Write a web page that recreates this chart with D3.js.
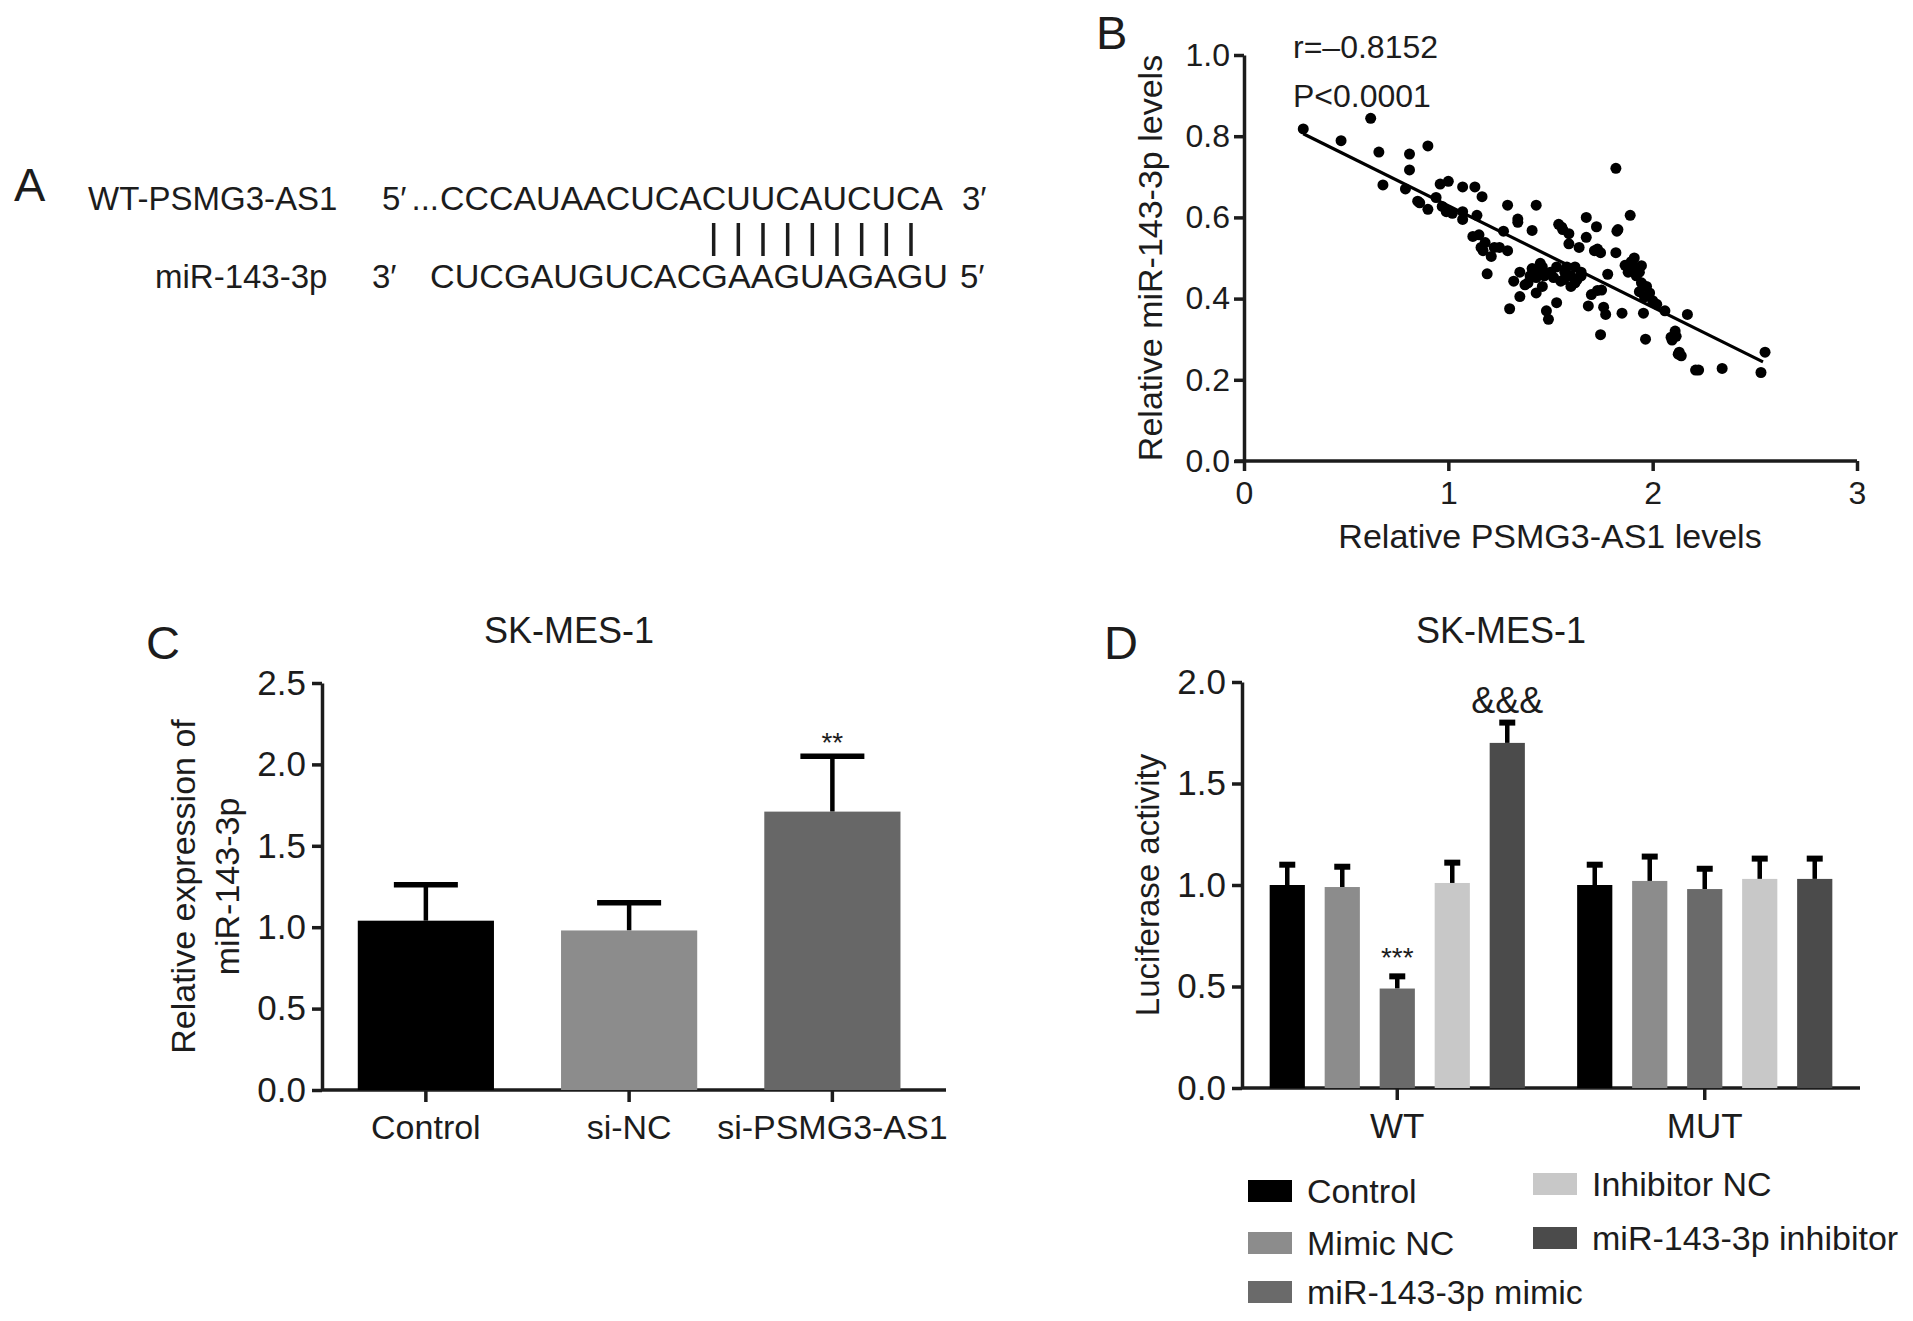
<!DOCTYPE html>
<html lang="en">
<head>
<meta charset="UTF-8">
<title>PSMG3-AS1 / miR-143-3p</title>
<script src="https://cdn.jsdelivr.net/npm/d3@7/dist/d3.min.js"></script>
<style>
  body { margin: 0; background: #fff; }
  svg text { font-family: "Liberation Sans", Arial, sans-serif; fill: #1c1c1c; }
</style>
</head>
<body>
<div id="chart"></div>
<script>
const width = 1913, height = 1321;
const ink = '#1c1c1c';

// ---- panel A: sequence pairing
const seqNames = ['WT-PSMG3-AS1', 'miR-143-3p'];
const seqLeftEnds = ['5′', '3′'];
const seqRightEnds = ['3′', '5′'];
const seqStrings = ['CCCAUAACUCACUUCAUCUCA', 'CUCGAUGUCACGAAGUAGAGU'];
const pairedIdx = [11, 12, 13, 14, 15, 16, 17, 18, 19]; // positions on miR strand

// ---- panel B: correlation
const psmgLevels = [0.29, 0.475, 0.62, 0.66, 0.68, 0.81, 0.81, 0.90, 0.79, 0.86,
  0.90, 0.96, 1.0, 0.94, 0.99, 1.02, 1.07, 1.13, 1.165, 1.07,
  1.14, 1.15, 1.18, 1.17, 1.21, 1.19, 1.25, 1.27, 1.29, 1.29,
  1.34, 1.34, 1.43, 1.41, 1.30, 1.32, 1.35, 1.39, 1.41, 1.43,
  1.43, 1.46, 1.45, 1.48, 1.49, 1.53, 1.53, 1.54, 1.56, 1.55,
  1.57, 1.59, 1.60, 1.63, 1.62, 1.65, 1.64, 1.675, 1.675, 1.685,
  1.70, 1.725, 1.73, 1.745, 1.75, 1.745, 1.76, 1.77, 1.78, 1.82,
  1.825, 1.82, 1.85, 1.865, 1.88, 1.89, 1.895, 1.91, 1.92, 1.945,
  1.935, 1.96, 1.955, 1.965, 1.97, 1.985, 2.02, 2.06, 2.09, 2.11,
  2.095, 2.13, 2.14, 2.17, 2.21, 2.225, 2.34, 2.53, 2.55, 1.50,
  1.515, 1.58, 1.60, 1.62, 1.65, 1.40, 1.375, 1.35, 1.555, 1.59,
  1.12, 1.16, 1.225, 1.07, 0.97, 0.85, 1.935, 1.91, 1.83, 1.715,
  1.73, 1.945, 1.98, 2.0, 2.115, 2.125, 1.565, 1.46, 1.44, 1.47];
const mirLevels = [0.818, 0.789, 0.844, 0.761, 0.68, 0.756, 0.717, 0.776, 0.67, 0.636,
  0.62, 0.682, 0.689, 0.649, 0.614, 0.61, 0.675, 0.675, 0.651, 0.595,
  0.605, 0.557, 0.538, 0.518, 0.504, 0.461, 0.526, 0.566, 0.518, 0.63,
  0.596, 0.588, 0.63, 0.568, 0.375, 0.443, 0.405, 0.439, 0.474, 0.452,
  0.414, 0.43, 0.487, 0.370, 0.349, 0.390, 0.478, 0.583, 0.57, 0.443,
  0.465, 0.535, 0.43, 0.447, 0.478, 0.465, 0.526, 0.551, 0.60, 0.382,
  0.41, 0.577, 0.522, 0.513, 0.421, 0.311, 0.379, 0.361, 0.46, 0.721,
  0.566, 0.513, 0.364, 0.482, 0.465, 0.605, 0.491, 0.478, 0.456, 0.481,
  0.417, 0.404, 0.364, 0.30, 0.43, 0.414, 0.386, 0.37, 0.305, 0.32,
  0.298, 0.268, 0.259, 0.361, 0.224, 0.224, 0.228, 0.218, 0.268, 0.465,
  0.452, 0.478, 0.456, 0.439, 0.456, 0.456, 0.434, 0.465, 0.576, 0.56,
  0.553, 0.526, 0.526, 0.614, 0.627, 0.64, 0.465, 0.5, 0.57, 0.518,
  0.42, 0.439, 0.408, 0.395, 0.307, 0.263, 0.447, 0.478, 0.465, 0.456];
const fitX = [0.29, 2.54];
const fitY = [0.806, 0.244];
const statText = ['r=–0.8152', 'P<0.0001'];

// ---- panel C: qPCR
const cGroups = ['Control', 'si-NC', 'si-PSMG3-AS1'];
const cMeans = [1.04, 0.98, 1.71];
const cErr = [0.22, 0.17, 0.34];
const cColors = ['#000000', '#8c8c8c', '#676767'];
const cMarks = ['', '', '**'];

// ---- panel D: luciferase
const dGroups = ['WT', 'MUT'];
const dSeries = ['Control', 'Mimic NC', 'miR-143-3p mimic', 'Inhibitor NC', 'miR-143-3p inhibitor'];
const dColors = ['#000000', '#8c8c8c', '#6a6a6a', '#c8c8c8', '#4b4b4b'];
const wtMeans = [1.0, 0.99, 0.49, 1.01, 1.70];
const wtErr = [0.10, 0.10, 0.06, 0.10, 0.10];
const mutMeans = [1.0, 1.02, 0.98, 1.03, 1.03];
const mutErr = [0.10, 0.12, 0.10, 0.10, 0.10];
const wtMarks = ['', '', '***', '', '&&&'];

const svg = d3.select('#chart').append('svg')
  .attr('width', width).attr('height', height)
  .style('background', '#fff');

function styleAxis(g, fs) {
  g.attr('font-family', null).attr('font-size', null);
  g.selectAll('path, line').attr('stroke', ink).attr('stroke-width', 3.5);
  g.selectAll('text').attr('font-size', fs).attr('fill', ink);
}

function panelLetter(t, x, y) {
  svg.append('text').attr('x', x).attr('y', y).attr('font-size', 47).text(t);
}

// ================= A
panelLetter('A', 14, 201);
const seqFs = 33;
const nameX = [88, 155], baseY = [210, 288];
const leftEndX = [382, 372], seqX0 = [440, 430], seqX1 = [943, 948], rightEndX = [962, 960];
seqNames.forEach((n, i) => {
  svg.append('text').attr('x', nameX[i]).attr('y', baseY[i]).attr('font-size', seqFs).text(n);
  svg.append('text').attr('x', leftEndX[i]).attr('y', baseY[i]).attr('font-size', seqFs)
    .text(seqLeftEnds[i]);
  svg.append('text').attr('x', seqX0[i]).attr('y', baseY[i]).attr('font-size', seqFs)
    .attr('textLength', seqX1[i] - seqX0[i]).attr('lengthAdjust', 'spacingAndGlyphs')
    .text(seqStrings[i]);
  svg.append('text').attr('x', rightEndX[i]).attr('y', baseY[i]).attr('font-size', seqFs).text(seqRightEnds[i]);
});
// dots before the WT fragment
svg.append('text').attr('x', seqX0[0] - 1).attr('y', baseY[0]).attr('font-size', seqFs)
  .attr('text-anchor', 'end').text('...');

const letterX = d3.scaleLinear().domain([0, seqStrings[1].length]).range([seqX0[1], seqX1[1]]);
svg.append('g').selectAll('line').data(pairedIdx).join('line')
  .attr('x1', d => letterX(d + 0.5)).attr('x2', d => letterX(d + 0.5))
  .attr('y1', 223).attr('y2', 256)
  .attr('stroke', ink).attr('stroke-width', 3.5);

// ================= B
panelLetter('B', 1096, 49);
const bx = d3.scaleLinear().domain([0, 3]).range([1244, 1857]);
const by = d3.scaleLinear().domain([0, 1]).range([461, 55]);

const bxAxis = svg.append('g').attr('transform', `translate(0,${by(0)})`)
  .call(d3.axisBottom(bx).tickValues([0, 1, 2, 3]).tickFormat(d3.format('d'))
    .tickSize(10).tickSizeOuter(0).tickPadding(10));
styleAxis(bxAxis, 32);
bxAxis.select('.domain').attr('d', `M${bx(0) - 9},0H${bx(3)}`);

const byAxis = svg.append('g').attr('transform', `translate(${bx(0)},0)`)
  .call(d3.axisLeft(by).tickValues(d3.range(0, 1.01, 0.2)).tickFormat(d3.format('.1f'))
    .tickSize(10).tickSizeOuter(0).tickPadding(4));
styleAxis(byAxis, 32);

svg.append('g').selectAll('circle').data(psmgLevels).join('circle')
  .attr('cx', d => bx(d)).attr('cy', (d, i) => by(mirLevels[i]))
  .attr('r', 5.5).attr('fill', '#000');

svg.append('line')
  .attr('x1', bx(fitX[0])).attr('y1', by(fitY[0]))
  .attr('x2', bx(fitX[1])).attr('y2', by(fitY[1]))
  .attr('stroke', '#000').attr('stroke-width', 3.2);

svg.append('text').attr('x', 1293).attr('y', 58).attr('font-size', 32).text(statText[0]);
svg.append('text').attr('x', 1293).attr('y', 107).attr('font-size', 32).text(statText[1]);

svg.append('text').attr('font-size', 34).attr('text-anchor', 'middle')
  .attr('transform', `translate(1162,${(by(0) + by(1)) / 2}) rotate(-90)`)
  .text('Relative miR-143-3p levels');
svg.append('text').attr('font-size', 34).attr('text-anchor', 'middle')
  .attr('x', 1550).attr('y', 548).text('Relative PSMG3-AS1 levels');

// ================= C
panelLetter('C', 146, 659);
svg.append('text').attr('x', 569).attr('y', 643).attr('font-size', 36)
  .attr('text-anchor', 'middle').text('SK-MES-1');

const cy = d3.scaleLinear().domain([0, 2.5]).range([1090, 683]);
const cx = d3.scaleBand().domain(cGroups).range([322, 946])
  .paddingInner(0.33).paddingOuter(0.2).align(0.44);

const cxAxis = svg.append('g').attr('transform', `translate(0,${cy(0)})`)
  .call(d3.axisBottom(cx).tickSize(12).tickSizeOuter(0).tickPadding(13));
styleAxis(cxAxis, 34);
cxAxis.select('.domain').attr('d', `M322,0H946`);

const cyAxis = svg.append('g').attr('transform', `translate(322,0)`)
  .call(d3.axisLeft(cy).tickValues(d3.range(0, 2.51, 0.5)).tickFormat(d3.format('.1f'))
    .tickSize(10).tickSizeOuter(0).tickPadding(6));
styleAxis(cyAxis, 35);

const cBar = svg.append('g').selectAll('g').data(cGroups).join('g');
cBar.append('line')
  .attr('x1', d => cx(d) + cx.bandwidth() / 2).attr('x2', d => cx(d) + cx.bandwidth() / 2)
  .attr('y1', (d, i) => cy(cMeans[i])).attr('y2', (d, i) => cy(cMeans[i] + cErr[i]))
  .attr('stroke', '#000').attr('stroke-width', 4.5);
cBar.append('line')
  .attr('x1', d => cx(d) + cx.bandwidth() / 2 - 32).attr('x2', d => cx(d) + cx.bandwidth() / 2 + 32)
  .attr('y1', (d, i) => cy(cMeans[i] + cErr[i])).attr('y2', (d, i) => cy(cMeans[i] + cErr[i]))
  .attr('stroke', '#000').attr('stroke-width', 5.5);
cBar.append('rect')
  .attr('x', d => cx(d)).attr('width', cx.bandwidth())
  .attr('y', (d, i) => cy(cMeans[i])).attr('height', (d, i) => cy(0) - cy(cMeans[i]))
  .attr('fill', (d, i) => cColors[i]);
cBar.append('text')
  .attr('x', d => cx(d) + cx.bandwidth() / 2).attr('y', (d, i) => cy(cMeans[i] + cErr[i]) - 4)
  .attr('text-anchor', 'middle').attr('font-size', 28).text((d, i) => cMarks[i]);

svg.append('text').attr('font-size', 34).attr('text-anchor', 'middle')
  .attr('transform', `translate(195,${(cy(0) + cy(2.5)) / 2}) rotate(-90)`)
  .text('Relative expression of');
svg.append('text').attr('font-size', 34).attr('text-anchor', 'middle')
  .attr('transform', `translate(239,${(cy(0) + cy(2.5)) / 2}) rotate(-90)`)
  .text('miR-143-3p');

// ================= D
panelLetter('D', 1104, 659);
svg.append('text').attr('x', 1501).attr('y', 643).attr('font-size', 36)
  .attr('text-anchor', 'middle').text('SK-MES-1');

const dy = d3.scaleLinear().domain([0, 2]).range([1088, 682]);
const dx0 = d3.scaleBand().domain(dGroups).range([1242, 1860]).paddingInner(0.17).paddingOuter(0.09);
const dx1 = d3.scaleBand().domain(dSeries).range([0, dx0.bandwidth()]).paddingInner(0.36);

const dxAxis = svg.append('g').attr('transform', `translate(0,${dy(0)})`)
  .call(d3.axisBottom(dx0).tickSize(12).tickSizeOuter(0).tickPadding(13));
styleAxis(dxAxis, 35);
dxAxis.select('.domain').attr('d', `M1242,0H1860`);

const dyAxis = svg.append('g').attr('transform', `translate(1242,0)`)
  .call(d3.axisLeft(dy).tickValues(d3.range(0, 2.01, 0.5)).tickFormat(d3.format('.1f'))
    .tickSize(10).tickSizeOuter(0).tickPadding(6));
styleAxis(dyAxis, 35);

const dRows = [];
dGroups.forEach((g, gi) => {
  const means = gi === 0 ? wtMeans : mutMeans;
  const errs = gi === 0 ? wtErr : mutErr;
  dSeries.forEach((s, si) => {
    dRows.push({ g, s, si, v: means[si], e: errs[si], mark: gi === 0 ? wtMarks[si] : '' });
  });
});

const dBar = svg.append('g').selectAll('g').data(dRows).join('g')
  .attr('transform', d => `translate(${dx0(d.g) + dx1(d.s)},0)`);
const bw = dx1.bandwidth();
dBar.append('line')
  .attr('x1', bw / 2).attr('x2', bw / 2)
  .attr('y1', d => dy(d.v)).attr('y2', d => dy(d.v + d.e))
  .attr('stroke', '#000').attr('stroke-width', 4.5);
dBar.append('line')
  .attr('x1', bw / 2 - 8).attr('x2', bw / 2 + 8)
  .attr('y1', d => dy(d.v + d.e)).attr('y2', d => dy(d.v + d.e))
  .attr('stroke', '#000').attr('stroke-width', 6);
dBar.append('rect')
  .attr('width', bw).attr('y', d => dy(d.v)).attr('height', d => dy(0) - dy(d.v))
  .attr('fill', d => dColors[d.si]);
dBar.append('text')
  .attr('x', bw / 2).attr('y', d => dy(d.v + d.e) - (d.mark === '***' ? 9 : 10))
  .attr('text-anchor', 'middle')
  .attr('font-size', d => d.mark === '***' ? 28 : 36)
  .text(d => d.mark);

svg.append('text').attr('font-size', 33).attr('text-anchor', 'middle')
  .attr('transform', `translate(1159,${(dy(0) + dy(2)) / 2}) rotate(-90)`)
  .text('Luciferase activity');

// legend
const legPos = [[1248, 1191], [1248, 1243], [1248, 1292], [1533, 1184], [1533, 1238]];
const leg = svg.append('g').selectAll('g').data(dSeries).join('g')
  .attr('transform', (d, i) => `translate(${legPos[i][0]},${legPos[i][1]})`);
leg.append('rect').attr('x', 0).attr('y', -11).attr('width', 44).attr('height', 22)
  .attr('fill', (d, i) => dColors[i]);
leg.append('text').attr('x', 59).attr('y', 12).attr('font-size', 34).text(d => d);
</script>
</body>
</html>
